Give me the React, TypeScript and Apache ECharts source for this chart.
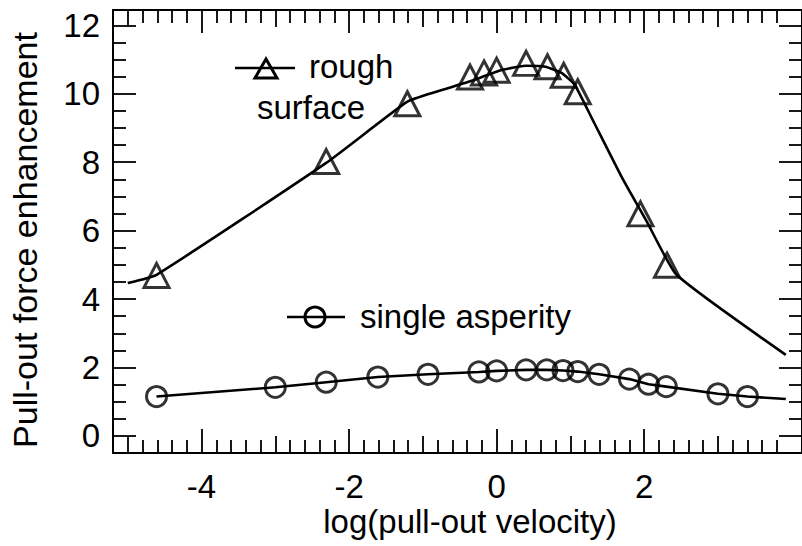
import React, { useEffect, useRef } from "react";
import * as echarts from "echarts";

// ---- axis ranges & ticks ----
const X_MIN = -5.2;
const X_MAX = 4.14;
const Y_MIN = -0.5;
const Y_MAX = 12.45;

const xMajorTicks = [-4, -2, 0, 2];
const xMidTicks = [-5, -3, -1, 1, 3];
const xMinorTicks = [
  -4.8, -4.6, -4.4, -4.2, -3.8, -3.6, -3.4, -3.2, -2.8, -2.6, -2.4, -2.2,
  -1.8, -1.6, -1.4, -1.2, -0.8, -0.6, -0.4, -0.2, 0.2, 0.4, 0.6, 0.8,
  1.2, 1.4, 1.6, 1.8, 2.2, 2.4, 2.6, 2.8, 3.2, 3.4, 3.6, 3.8,
];
const yMajorTicks = [0, 2, 4, 6, 8, 10, 12];
const yMinorTicks = [
  0.5, 1, 1.5, 2.5, 3, 3.5, 4.5, 5, 5.5, 6.5, 7, 7.5, 8.5, 9, 9.5, 10.5, 11, 11.5,
];

// ---- rough surface ----
const roughX = [-4.61, -2.31, -1.21, -0.36, -0.17, 0.0, 0.4, 0.69, 0.91, 1.1, 1.95, 2.31];
const roughY = [4.69, 8.02, 9.71, 10.49, 10.61, 10.69, 10.89, 10.79, 10.54, 10.06, 6.49, 4.99];
const roughCurveX = [-5.0, -4.61, -2.31, -1.21, -0.82, -0.38, 0.08, 0.39, 0.66, 0.88, 1.06, 1.3, 1.7, 2.04, 2.44, 3.92];
const roughCurveY = [4.47, 4.71, 7.98, 9.77, 10.06, 10.35, 10.7, 10.82, 10.79, 10.61, 10.26, 9.25, 7.55, 6.25, 4.71, 2.37];

// ---- single asperity ----
const singleX = [-4.61, -3.0, -2.31, -1.61, -0.93, -0.24, 0.0, 0.4, 0.68, 0.9, 1.1, 1.39, 1.8, 2.06, 2.3, 3.0, 3.4];
const singleY = [1.15, 1.42, 1.57, 1.72, 1.8, 1.87, 1.9, 1.93, 1.93, 1.91, 1.88, 1.8, 1.66, 1.51, 1.44, 1.23, 1.15];
const singleCurveX = [...singleX, 3.92];
const singleCurveY = [...singleY, 1.08];

const FONT = '"Liberation Sans", Arial, Helvetica, sans-serif';
const FS = 33;

function zip(xs: number[], ys: number[]) {
  return xs.map((x, i) => [x, ys[i]]);
}

function xAxisDef(position: string, ticks: number[], len: number, main: boolean, labels: boolean) {
  return {
    type: "value",
    position,
    min: X_MIN,
    max: X_MAX,
    axisLine: { show: main, onZero: false, lineStyle: { color: "#000", width: 2 } },
    axisTick: {
      show: true,
      inside: true,
      length: len,
      customValues: ticks,
      lineStyle: { color: "#000", width: 1.8 },
    },
    axisLabel: labels
      ? {
          show: true,
          customValues: xMajorTicks,
          margin: 17,
          color: "#000",
          fontSize: FS,
          fontFamily: FONT,
        }
      : { show: false },
    splitLine: { show: false },
  };
}

function yAxisDef(position: string, ticks: number[], len: number, main: boolean, labels: boolean) {
  return {
    type: "value",
    position,
    min: Y_MIN,
    max: Y_MAX,
    axisLine: { show: main, onZero: false, lineStyle: { color: "#000", width: 2 } },
    axisTick: {
      show: true,
      inside: true,
      length: len,
      customValues: ticks,
      lineStyle: { color: "#000", width: 1.8 },
    },
    axisLabel: labels
      ? {
          show: true,
          customValues: yMajorTicks,
          margin: 13,
          color: "#000",
          fontSize: FS,
          fontFamily: FONT,
        }
      : { show: false },
    splitLine: { show: false },
  };
}

export default function App() {
  const ref = useRef<HTMLDivElement>(null);

  useEffect(() => {
    if (!ref.current) return;
    const chart = echarts.init(ref.current, null, { renderer: "svg" });
    const textStyle = (extra: any) => ({
      fill: "#000",
      fontSize: FS,
      fontFamily: FONT,
      ...extra,
    });
    chart.setOption({
      animation: false,
      backgroundColor: "#fff",
      grid: { left: 113, right: -7, top: 10, bottom: 93, containLabel: false },
      xAxis: [
        xAxisDef("bottom", xMajorTicks, 24, true, true),
        xAxisDef("bottom", xMidTicks, 17, false, false),
        xAxisDef("bottom", xMinorTicks, 13, false, false),
        xAxisDef("top", xMajorTicks, 23, true, false),
        xAxisDef("top", xMidTicks, 17, false, false),
        xAxisDef("top", xMinorTicks, 13, false, false),
      ],
      yAxis: [
        yAxisDef("left", yMajorTicks, 23, true, true),
        yAxisDef("left", yMinorTicks, 13, false, false),
        yAxisDef("right", yMajorTicks, 23, true, false),
        yAxisDef("right", yMinorTicks, 13, false, false),
      ],
      series: [
        {
          name: "rough surface curve",
          type: "line",
          data: zip(roughCurveX, roughCurveY),
          symbol: "none",
          smooth: 0.15,
          lineStyle: { color: "#000", width: 2.6 },
          z: 3,
        },
        {
          name: "rough surface",
          type: "scatter",
          data: zip(roughX, roughY),
          symbol: "triangle",
          symbolSize: [25, 24],
          itemStyle: { color: "rgba(0,0,0,0)", borderColor: "#000", borderWidth: 3 },
          z: 4,
        },
        {
          name: "single asperity curve",
          type: "line",
          data: zip(singleCurveX, singleCurveY),
          symbol: "none",
          lineStyle: { color: "#000", width: 2.6 },
          z: 3,
        },
        {
          name: "single asperity",
          type: "scatter",
          data: zip(singleX, singleY),
          symbol: "circle",
          symbolSize: 20,
          itemStyle: { color: "rgba(0,0,0,0)", borderColor: "#000", borderWidth: 3 },
          z: 4,
        },
      ],
      graphic: [
        { type: "line", shape: { x1: 235, y1: 68, x2: 295, y2: 68 }, style: { stroke: "#000", lineWidth: 2.6 } },
        {
          type: "polygon",
          shape: { points: [[255, 78], [277, 78], [266, 59]] },
          style: { fill: "none", stroke: "#000", lineWidth: 3 },
        },
        { type: "text", x: 309, y: 66, style: textStyle({ text: "rough", verticalAlign: "middle" }) },
        { type: "text", x: 257, y: 107, style: textStyle({ text: "surface", verticalAlign: "middle" }) },
        { type: "line", shape: { x1: 287, y1: 317, x2: 345, y2: 317 }, style: { stroke: "#000", lineWidth: 2.6 } },
        {
          type: "circle",
          shape: { cx: 315, cy: 317, r: 10 },
          style: { fill: "none", stroke: "#000", lineWidth: 3 },
        },
        { type: "text", x: 360, y: 316, style: textStyle({ text: "single asperity", verticalAlign: "middle" }) },
        {
          type: "text",
          x: 470,
          y: 521,
          style: textStyle({ text: "log(pull-out velocity)", align: "center", verticalAlign: "middle" }),
        },
        {
          type: "text",
          x: 25,
          y: 240,
          rotation: Math.PI / 2,
          style: textStyle({ text: "Pull-out force enhancement", align: "center", verticalAlign: "middle", fontSize: 34 }),
        },
      ],
    });
    return () => chart.dispose();
  }, []);

  return (
    <div
      ref={ref}
      style={{ position: "absolute", left: 0, top: 0, width: 802, height: 546 }}
    />
  );
}
